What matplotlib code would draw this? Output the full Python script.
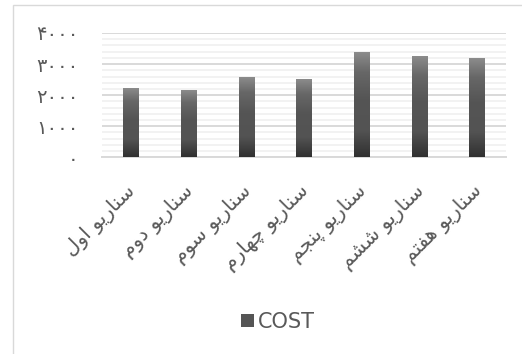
import numpy as np
import matplotlib
matplotlib.use('Agg')
import matplotlib.pyplot as plt
import matplotlib.transforms as mtransforms
from matplotlib.patches import Rectangle
from matplotlib.ticker import MultipleLocator, FixedLocator

# scenario names and their cost values
scenarios = ['سناریو اول', 'سناریو دوم', 'سناریو سوم', 'سناریو چهارم',
             'سناریو پنجم', 'سناریو ششم', 'سناریو هفتم']
cost = [2230, 2170, 2585, 2520, 3390, 3260, 3195]
y_ticks = [0, 1000, 2000, 3000, 4000]
series_name = 'COST'

# matplotlib has no arabic shaping, so pick the presentation forms by hand
# letter: (isolated, final, initial, medial)
FORMS = {
    'س': ('\uFEB1', '\uFEB2', '\uFEB3', '\uFEB4'),
    'ش': ('\uFEB5', '\uFEB6', '\uFEB7', '\uFEB8'),
    'ن': ('\uFEE5', '\uFEE6', '\uFEE7', '\uFEE8'),
    'ا': ('\uFE8D', '\uFE8E', None, None),
    'ر': ('\uFEAD', '\uFEAE', None, None),
    'د': ('\uFEA9', '\uFEAA', None, None),
    'و': ('\uFEED', '\uFEEE', None, None),
    'ی': ('\uFBFC', '\uFBFD', '\uFBFE', '\uFBFF'),
    'ل': ('\uFEDD', '\uFEDE', '\uFEDF', '\uFEE0'),
    'م': ('\uFEE1', '\uFEE2', '\uFEE3', '\uFEE4'),
    'چ': ('\uFB7A', '\uFB7B', '\uFB7C', '\uFB7D'),
    'ه': ('\uFEE9', '\uFEEA', '\uFEEB', '\uFEEC'),
    'پ': ('\uFB56', '\uFB57', '\uFB58', '\uFB59'),
    'ج': ('\uFE9D', '\uFE9E', '\uFE9F', '\uFEA0'),
    'ف': ('\uFED1', '\uFED2', '\uFED3', '\uFED4'),
    'ت': ('\uFE95', '\uFE96', '\uFE97', '\uFE98'),
}


def joins_next(ch):
    return ch in FORMS and FORMS[ch][2] is not None


def shape(text):
    out = []
    for i, ch in enumerate(text):
        if ch not in FORMS:
            out.append(ch)
            continue
        prev = text[i - 1] if i > 0 else ' '
        nxt = text[i + 1] if i + 1 < len(text) else ' '
        before = joins_next(prev)
        after = joins_next(ch) and nxt in FORMS
        iso, fin, ini, med = FORMS[ch]
        if before and after:
            out.append(med)
        elif before:
            out.append(fin)
        elif after:
            out.append(ini)
        else:
            out.append(iso)
    return ''.join(out)[::-1]


def fa_digits(n):
    return str(n).translate(str.maketrans('0123456789', '۰۱۲۳۴۵۶۷۸۹'))


text_color = '#595959'
plt.rcParams['font.family'] = ['DejaVu Sans']

fig = plt.figure(figsize=(5.22, 3.54), dpi=100)
ax = fig.add_axes([0.195, 0.5556, 0.774, 0.3512])

# chart frame
fig.patches.append(Rectangle((13 / 522, -0.1), 1.2, 1 - 5 / 354 + 0.1,
                             transform=fig.transFigure, fill=False,
                             edgecolor='#d9d9d9', linewidth=1.0, zorder=0))

x = np.arange(len(scenarios))
bars = ax.bar(x, cost, width=0.26, color='#555555', zorder=3, label=series_name)

# vertical grey gradient in every bar
grad = np.linspace(0, 1, 256).reshape(-1, 1)
cmap = matplotlib.colors.LinearSegmentedColormap.from_list(
    'g', [(0, '#303030'), (0.25, '#535353'), (0.55, '#555555'),
          (0.8, '#676767'), (1, '#8e8e8e')])
for b in bars:
    x0, w, h = b.get_x(), b.get_width(), b.get_height()
    im = ax.imshow(grad, cmap=cmap, origin='lower', aspect='auto',
                   extent=(x0, x0 + w, 0, h), zorder=4)
    im.set_clip_path(b)

ax.set_xlim(-0.5, len(scenarios) - 0.5)
ax.set_ylim(0, 4000)
ax.yaxis.set_major_locator(FixedLocator(y_ticks))
ax.yaxis.set_minor_locator(MultipleLocator(200))
ax.grid(which='major', axis='y', color='#d9d9d9', linewidth=1.4, zorder=1)
ax.grid(which='minor', axis='y', color='#f2f2f2', linewidth=1.4, zorder=1)
for s in ['left', 'right', 'top']:
    ax.spines[s].set_visible(False)
ax.spines['bottom'].set_color('#d9d9d9')
ax.spines['bottom'].set_linewidth(1.4)

ax.set_yticklabels([fa_digits(v) for v in y_ticks], color=text_color, fontsize=14)
ax.tick_params(axis='y', which='both', length=0, pad=17)
ax.set_xticks(x)
ax.set_xticklabels([shape(s) for s in scenarios], rotation=45, ha='right',
                   rotation_mode='anchor', color=text_color, fontsize=14.5)
ax.tick_params(axis='x', length=0, pad=17)
shift = mtransforms.ScaledTranslation(-5 / 100, 0, fig.dpi_scale_trans)
for lbl in ax.get_xticklabels():
    lbl.set_transform(lbl.get_transform() + shift)

fig.legend(handles=[bars], labels=[series_name], loc='center',
           bbox_to_anchor=(278 / 522, 1 - 322 / 354), frameon=False,
           fontsize=15, labelcolor=text_color, handlelength=0.6,
           handleheight=0.6, handletextpad=0.2)

fig.savefig('out.png', dpi=100)
